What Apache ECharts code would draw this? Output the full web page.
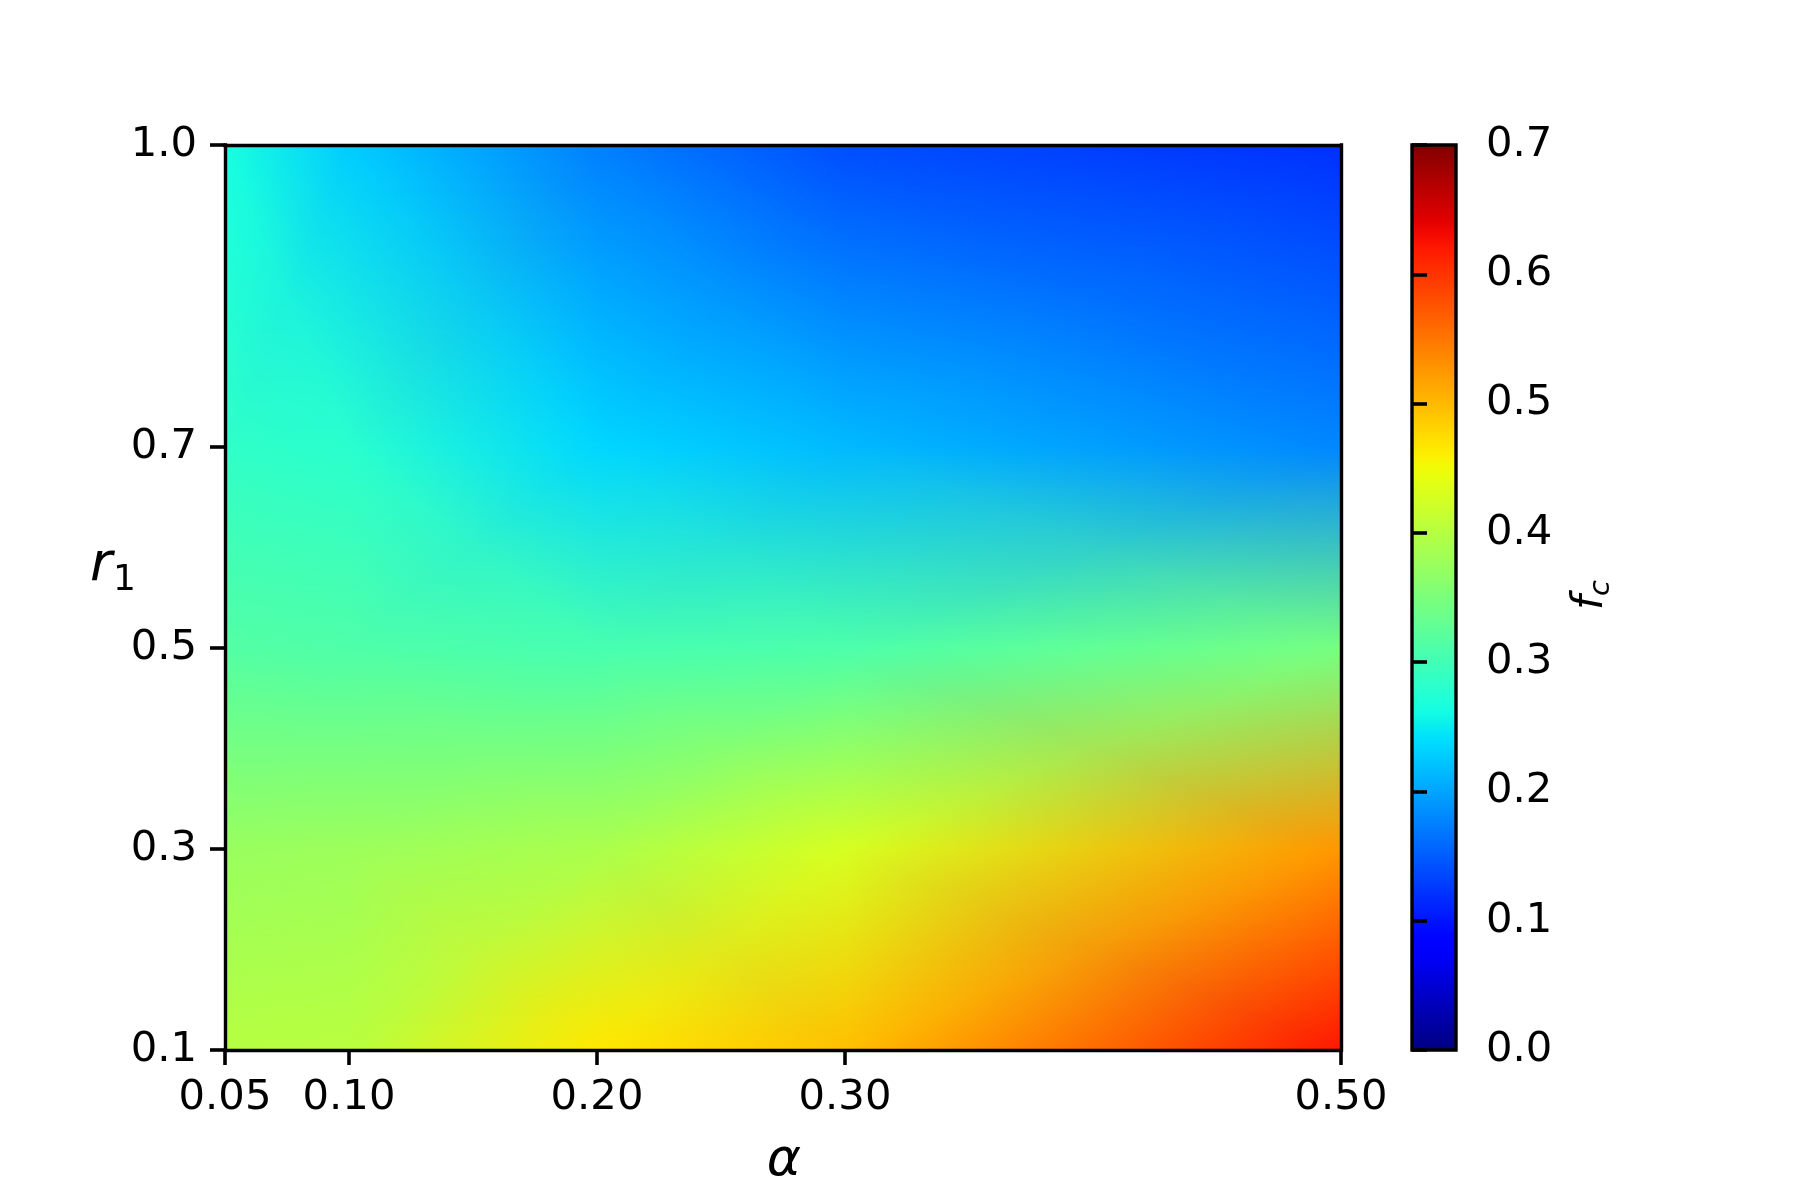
<!DOCTYPE html>
<html>
<head>
<meta charset="utf-8">
<script src="https://cdn.jsdelivr.net/npm/echarts@6/dist/echarts.min.js"></script>
<style>
html,body{margin:0;padding:0;background:#fff}
#c{width:1800px;height:1200px}
</style>
</head>
<body>
<div id="c"></div>
<script>
// ---- data (grid nodes of the f_c surface) ----
const alphaValues = [0.05, 0.10, 0.20, 0.30, 0.50];
const r1Values    = [0.1, 0.3, 0.5, 0.7, 1.0];
// f_c values, one array per r1 row, ordered by alpha
const fc_r1_010 = [0.400, 0.402, 0.465, 0.495, 0.620];
const fc_r1_030 = [0.375, 0.378, 0.390, 0.427, 0.525];
const fc_r1_050 = [0.315, 0.312, 0.305, 0.310, 0.345];
const fc_r1_070 = [0.285, 0.280, 0.235, 0.215, 0.180];
const fc_r1_100 = [0.265, 0.228, 0.175, 0.140, 0.120];
const fcGrid = [fc_r1_010, fc_r1_030, fc_r1_050, fc_r1_070, fc_r1_100];

const xTickValues = [0.05, 0.10, 0.20, 0.30, 0.50];
const yTickValues = [0.1, 0.3, 0.5, 0.7, 1.0];
const fcMin = 0.0, fcMax = 0.7, fcTickStep = 0.1;

// ---- jet colormap ----
const JET = {
  r: [[0,0],[0.35,0],[0.66,1],[0.89,1],[1,0.5]],
  g: [[0,0],[0.125,0],[0.375,1],[0.64,1],[0.91,0],[1,0]],
  b: [[0,0.5],[0.11,1],[0.34,1],[0.65,0],[1,0]]
};
function seg(p, t){
  for (let k = 1; k < p.length; k++){
    if (t <= p[k][0]){
      const a = p[k-1], b = p[k];
      return a[1] + (b[1]-a[1]) * (t-a[0]) / (b[0]-a[0]);
    }
  }
  return p[p.length-1][1];
}
function jetRGB(v){
  let t = (v - fcMin) / (fcMax - fcMin);
  t = Math.max(0, Math.min(1, t));
  return [seg(JET.r,t)*255, seg(JET.g,t)*255, seg(JET.b,t)*255];
}
function css(c){ return 'rgb(' + Math.round(c[0]) + ',' + Math.round(c[1]) + ',' + Math.round(c[2]) + ')'; }

// ---- cells built from the arrays ----
const cells = [];
for (let i = 0; i < r1Values.length - 1; i++){
  for (let j = 0; j < alphaValues.length - 1; j++){
    cells.push([alphaValues[j], r1Values[i], alphaValues[j+1], r1Values[i+1],
                fcGrid[i][j], fcGrid[i][j+1], fcGrid[i+1][j+1], fcGrid[i+1][j]]);
  }
}

// barycentric colour inside triangle (p1,p2,p3) with colours (c1,c2,c3)
function bary(u, s, p1, p2, p3, c1, c2, c3){
  const det = (p2[1]-p3[1])*(p1[0]-p3[0]) + (p3[0]-p2[0])*(p1[1]-p3[1]);
  const w1 = ((p2[1]-p3[1])*(u-p3[0]) + (p3[0]-p2[0])*(s-p3[1])) / det;
  const w2 = ((p3[1]-p1[1])*(u-p3[0]) + (p1[0]-p3[0])*(s-p3[1])) / det;
  const w3 = 1 - w1 - w2;
  return [c1[0]*w1+c2[0]*w2+c3[0]*w3, c1[1]*w1+c2[1]*w2+c3[1]*w3, c1[2]*w1+c2[2]*w2+c3[2]*w3];
}
// Gouraud shading as in matplotlib: quad split into 4 triangles around centre
function quadColor(u, s, LL, LR, UR, UL, CM){
  const A=[0,0], B=[1,0], C=[1,1], D=[0,1], M=[0.5,0.5];
  const eps = 1e-9;
  if (s <= Math.min(u, 1-u) + eps) return bary(u, s, A, B, M, LL, LR, CM);      // bottom
  if (s >= Math.max(u, 1-u) - eps) return bary(u, s, C, D, M, UR, UL, CM);      // top
  if (u >= 0.5) return bary(u, s, B, C, M, LR, UR, CM);                          // right
  return bary(u, s, D, A, M, UL, LL, CM);                                         // left
}

function renderCell(params, api){
  const LL = jetRGB(api.value(4)), LR = jetRGB(api.value(5)),
        UR = jetRGB(api.value(6)), UL = jetRGB(api.value(7));
  const CM = [0,1,2].map(k => (LL[k]+LR[k]+UR[k]+UL[k]) / 4);
  const pLL = api.coord([api.value(0), api.value(1)]);
  const pUR = api.coord([api.value(2), api.value(3)]);
  const X0 = pLL[0], X1 = pUR[0], Yb = pLL[1];
  const W = X1 - X0, H = Yb - pUR[1];
  const n = Math.max(1, Math.ceil(H / 2));
  const children = [];
  for (let k = 0; k < n; k++){
    const yBot = Math.round(Yb - k * H / n);
    const yTop = Math.round(Yb - (k+1) * H / n);
    if (yBot <= yTop) continue;
    const s = (k + 0.5) / n;
    const lo = Math.min(s, 1-s), hi = Math.max(s, 1-s);
    const breaks = [0, lo, hi, 1];
    for (let q = 0; q < 3; q++){
      const u0 = breaks[q], u1 = breaks[q+1];
      if (u1 - u0 < 1e-6) continue;
      const c0 = quadColor(u0 + 1e-7, s, LL, LR, UR, UL, CM);
      const c1 = quadColor(u1 - 1e-7, s, LL, LR, UR, UL, CM);
      const xa = X0 + u0 * W, xb = X0 + u1 * W;
      children.push({
        type: 'rect', silent: true,
        shape: { x: xa - 0.3, y: yTop, width: xb - xa + 0.6, height: yBot - yTop + 0.5 },
        style: { fill: new echarts.graphic.LinearGradient(0,0,1,0,[{offset:0,color:css(c0)},{offset:1,color:css(c1)}]), stroke: null }
      });
    }
  }
  return { type: 'group', children: children };
}

// colour bar gradient stops
const cbarStops = [];
for (let k = 0; k <= 70; k++){
  const v = fcMin + (fcMax - fcMin) * k / 70;
  cbarStops.push({ offset: k / 70, color: css(jetRGB(v)) });
}
function renderCbar(params, api){
  const p0 = api.coord([api.value(0), api.value(1)]);
  const p1 = api.coord([api.value(2), api.value(3)]);
  return {
    type: 'rect',
    shape: { x: p0[0], y: p1[1], width: p1[0] - p0[0], height: p0[1] - p1[1] },
    style: { fill: new echarts.graphic.LinearGradient(0,1,0,0,cbarStops), stroke: '#000', lineWidth: 3.4 }
  };
}

const FONT = 'DejaVu Sans';
const LW = 3.4;
function labelStyle(){ return { fontFamily: FONT, fontSize: 41.7, color: '#000' }; }
function lineOnly(){ return { show: true, onZero: false, lineStyle: { color: '#000', width: LW, cap: 'square' } }; }
function tickOpt(extra){ return Object.assign({ show: true, inside: false, length: 15, lineStyle: { color: '#000', width: 3.6, type: 'solid' } }, extra || {}); }

const chart = echarts.init(document.getElementById('c'), null, { renderer: 'canvas' });
chart.setOption({
  animation: false,
  backgroundColor: '#fff',
  grid: [
    { left: 225, top: 145, width: 1116, height: 905, show: false },
    { left: 1412, top: 145, width: 44, height: 905, show: false }
  ],
  xAxis: [
    { type: 'value', gridIndex: 0, min: 0.05, max: 0.5, position: 'bottom', z: 10,
      axisLine: lineOnly(),
      axisTick: tickOpt({ customValues: xTickValues }),
      axisLabel: Object.assign({ show: true, customValues: xTickValues, margin: 27,
        formatter: v => Number(v).toFixed(2) }, labelStyle()),
      splitLine: { show: false } },
    { type: 'value', gridIndex: 0, min: 0.05, max: 0.5, position: 'top', z: 10,
      axisLine: lineOnly(), axisTick: { show: false }, axisLabel: { show: false }, splitLine: { show: false } },
    { type: 'value', gridIndex: 1, min: 0, max: 1, show: false }
  ],
  yAxis: [
    { type: 'value', gridIndex: 0, min: 0.1, max: 1.0, position: 'left', z: 10,
      axisLine: lineOnly(),
      axisTick: tickOpt({ customValues: yTickValues }),
      axisLabel: Object.assign({ show: true, customValues: yTickValues, margin: 28,
        formatter: v => Number(v).toFixed(1) }, labelStyle()),
      splitLine: { show: false } },
    { type: 'value', gridIndex: 0, min: 0.1, max: 1.0, position: 'right', z: 10,
      axisLine: lineOnly(), axisTick: { show: false }, axisLabel: { show: false }, splitLine: { show: false } },
    { type: 'value', gridIndex: 1, min: fcMin, max: fcMax, interval: fcTickStep, position: 'right', z: 10,
      axisLine: { show: false },
      axisTick: tickOpt(),
      axisLabel: Object.assign({ show: true, margin: 30, formatter: v => Number(v).toFixed(1) }, labelStyle()),
      splitLine: { show: false } }
  ],
  series: [
    { type: 'custom', name: 'fc', xAxisIndex: 0, yAxisIndex: 0, clip: true, silent: true,
      renderItem: renderCell, encode: { x: [0, 2], y: [1, 3] }, data: cells },
    { type: 'custom', name: 'cbar', xAxisIndex: 2, yAxisIndex: 2, silent: true, z: 3,
      renderItem: renderCbar, encode: { x: [0, 2], y: [1, 3] }, data: [[0, fcMin, 1, fcMax]] }
  ],
  graphic: [
    { type: 'text', x: 784, y: 1161, silent: true,
      style: { text: 'α', font: 'italic 52px "DejaVu Sans"', fill: '#000',
               align: 'center', verticalAlign: 'middle', textAlign: 'center', textVerticalAlign: 'middle' } },
    { type: 'text', x: 90, y: 566, silent: true,
      style: { text: 'r', font: 'italic 54px "DejaVu Sans"', fill: '#000',
               align: 'left', verticalAlign: 'middle', textAlign: 'left', textVerticalAlign: 'middle' } },
    { type: 'text', x: 113, y: 581, silent: true,
      style: { text: '1', font: '36px "DejaVu Sans"', fill: '#000',
               align: 'left', verticalAlign: 'middle', textAlign: 'left', textVerticalAlign: 'middle' } },
    { type: 'group', x: 1591, y: 593, rotation: Math.PI / 2, silent: true,
      children: [
        { type: 'text', x: -17, y: 0,
          style: { text: 'f', font: 'italic 42px "DejaVu Sans"', fill: '#000',
                   align: 'left', verticalAlign: 'middle', textAlign: 'left', textVerticalAlign: 'middle' } },
        { type: 'text', x: -3, y: 10,
          style: { text: 'c', font: 'italic 29px "DejaVu Sans"', fill: '#000',
                   align: 'left', verticalAlign: 'middle', textAlign: 'left', textVerticalAlign: 'middle' } }
      ] }
  ]
});
</script>
</body>
</html>
